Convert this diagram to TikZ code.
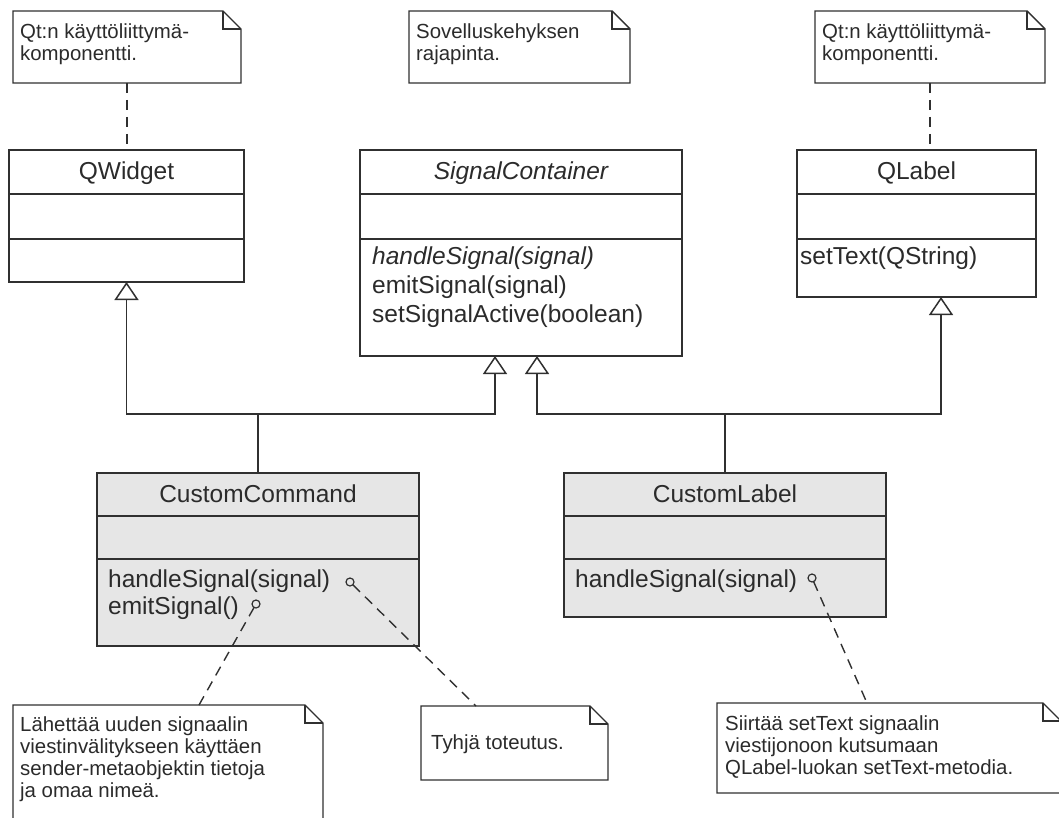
\documentclass[tikz,border=0pt]{standalone}
\usepackage{fontspec}
\setmainfont{Liberation Sans}
\usetikzlibrary{arrows.meta}
\definecolor{ink}{HTML}{2B2B2B}
\definecolor{edge}{HTML}{303030}
\definecolor{shade}{HTML}{E6E6E6}

% dog-eared outline around a note node
\newcommand\dogear[1]{%
  \draw[notefr] (#1.north west) -- ([xshift=-18pt]#1.north east)
    -- ([yshift=-18pt]#1.north east) -- (#1.south east)
    -- (#1.south west) -- cycle;
  \draw[notefr] ([xshift=-18pt]#1.north east)
    -- ([xshift=-18pt,yshift=-18pt]#1.north east)
    -- ([yshift=-18pt]#1.north east);}

\begin{document}
\begin{tikzpicture}[x=1pt,y=-1pt,
  classbox/.style={draw=edge, line width=1.6pt, anchor=north west,
    inner sep=0pt, outer sep=0pt, fill=white},
  subclass/.style={classbox, fill=shade},
  divider/.style={draw=edge, line width=1.6pt},
  ctitle/.style={anchor=base, inner sep=0pt, text=ink,
    font=\fontsize{24.5pt}{29pt}\selectfont},
  cmember/.style={anchor=base west, inner sep=0pt, text=ink,
    font=\fontsize{24.5pt}{29pt}\selectfont},
  notebody/.style={draw=none, fill=white, anchor=north west,
    inner sep=0pt, outer sep=0pt},
  notefr/.style={draw=edge, line width=1.4pt, line join=miter},
  ntext/.style={anchor=base west, inner sep=0pt, text=ink,
    font=\fontsize{20.4pt}{22.5pt}\selectfont},
  gen/.style={draw=edge, line width=1.6pt,
    -{Triangle[open, length=18pt, width=24pt, fill=white, line width=1.5pt]}},
  plain/.style={draw=edge, line width=1.6pt},
  anchorline/.style={draw=edge, line width=1.4pt, dash pattern=on 10pt off 7pt},
  pinhole/.style={circle, draw=edge, line width=1.2pt, fill=shade,
    minimum size=8pt, inner sep=0pt, outer sep=0pt}
]
\useasboundingbox (0,0) rectangle (1059,818);
\clip (0,0) rectangle (1059,818);
\fill[white] (0,0) rectangle (1059,818);

% ---- upper classes ----
\node[classbox, minimum width=235pt, minimum height=132pt] (qw) at (9,150) {};
\draw[divider] (qw.west |- 0,194) -- (qw.east |- 0,194);
\draw[divider] (qw.west |- 0,239) -- (qw.east |- 0,239);
\node[ctitle] (qwt) at (126.5,180) {QWidget};

\node[classbox, minimum width=322pt, minimum height=206pt] (sc) at (360,150) {};
\draw[divider] (sc.west |- 0,194) -- (sc.east |- 0,194);
\draw[divider] (sc.west |- 0,239) -- (sc.east |- 0,239);
\node[ctitle] (sct) at (521,180) {\itshape SignalContainer};
\node[cmember] (sc1) at (372,264) {\itshape handleSignal(signal)};
\node[cmember] (sc2) at (372,293) {emitSignal(signal)};
\node[cmember] (sc3) at (372,322) {setSignalActive(boolean)};

\node[classbox, minimum width=239pt, minimum height=147pt] (ql) at (797,150) {};
\draw[divider] (ql.west |- 0,194) -- (ql.east |- 0,194);
\draw[divider] (ql.west |- 0,239) -- (ql.east |- 0,239);
\node[ctitle] (qlt) at (916.5,180) {QLabel};
\node[cmember] (ql1) at (800,264) {setText(QString)};

% ---- lower classes ----
\node[subclass, minimum width=322pt, minimum height=173pt] (cc) at (97,473) {};
\draw[divider] (cc.west |- 0,516) -- (cc.east |- 0,516);
\draw[divider] (cc.west |- 0,559) -- (cc.east |- 0,559);
\node[ctitle] (cct) at (258,502) {CustomCommand};
\node[cmember] (cc1) at (108,587) {handleSignal(signal)};
\node[cmember] (cc2) at (108,614) {emitSignal()};

\node[subclass, minimum width=322pt, minimum height=144pt] (cl) at (564,473) {};
\draw[divider] (cl.west |- 0,516) -- (cl.east |- 0,516);
\draw[divider] (cl.west |- 0,559) -- (cl.east |- 0,559);
\node[ctitle] (clt) at (725,502) {CustomLabel};
\node[cmember] (cl1) at (575,587) {handleSignal(signal)};

% ---- generalisations ----
\coordinate (j1) at (258,414);
\coordinate (j2) at (725,414);
\draw[plain] (cc.north) -- (j1);
\draw[plain] (cl.north) -- (j2);
\draw[gen] (j1) -| (qw.south);
\draw[gen] (j1) -| (sc.south -| 495,0);
\draw[gen] (j2) -| (sc.south -| 537,0);
\draw[gen] (j2) -| (ql.south -| 941,0);

% ---- notes above ----
\node[notebody, minimum width=228pt, minimum height=72pt] (n1) at (13,11) {};
\dogear{n1}
\node[ntext] (n1a) at (20,39) {Qt:n käyttöliittymä-};
\node[ntext] (n1b) at (20,61) {komponentti.};
\draw[anchorline] (n1.south) -- (n1.south |- qw.north);

\node[notebody, minimum width=221pt, minimum height=72pt] (n2) at (409,11) {};
\dogear{n2}
\node[ntext] (n2a) at (416,39) {Sovelluskehyksen};
\node[ntext] (n2b) at (416,61) {rajapinta.};
\draw[anchorline] (sc.north -| 521,0) -- (sc.north -| 521,0 |- n2.south);

\node[notebody, minimum width=230pt, minimum height=72pt] (n3) at (815,11) {};
\dogear{n3}
\node[ntext] (n3a) at (822,39) {Qt:n käyttöliittymä-};
\node[ntext] (n3b) at (822,61) {komponentti.};
\draw[anchorline] (n3.south) -- (n3.south |- ql.north);

% ---- notes below ----
\node[notebody, minimum width=310pt, minimum height=135pt] (n4) at (13,705) {};
\dogear{n4}
\node[ntext] (n4a) at (20,731) {Lähettää uuden signaalin};
\node[ntext] (n4b) at (20,753) {viestinvälitykseen käyttäen};
\node[ntext] (n4c) at (20,775) {sender-metaobjektin tietoja};
\node[ntext] (n4d) at (20,797) {ja omaa nimeä.};

\node[notebody, minimum width=187pt, minimum height=74pt] (n5) at (421,706) {};
\dogear{n5}
\node[ntext] (n5a) at (431,749) {Tyhjä toteutus.};

\node[notebody, minimum width=344pt, minimum height=90pt] (n6) at (717,703) {};
\dogear{n6}
\node[ntext] (n6a) at (725,730) {Siirtää setText signaalin};
\node[ntext] (n6b) at (725,752) {viestijonoon kutsumaan};
\node[ntext] (n6c) at (725,774) {QLabel-luokan setText-metodia.};

% ---- member attachments ----
\node[pinhole] (p1) at (350,582) {};
\node[pinhole] (p2) at (256,604) {};
\node[pinhole] (p3) at (812,578) {};
\coordinate (a1) at (476,706);
\coordinate (a2) at (199,705);
\coordinate (a3) at (867,703);
\draw[anchorline] (p1) -- (a1);
\draw[anchorline] (p2) -- (a2);
\draw[anchorline] (p3) -- (a3);
\end{tikzpicture}
\end{document}
